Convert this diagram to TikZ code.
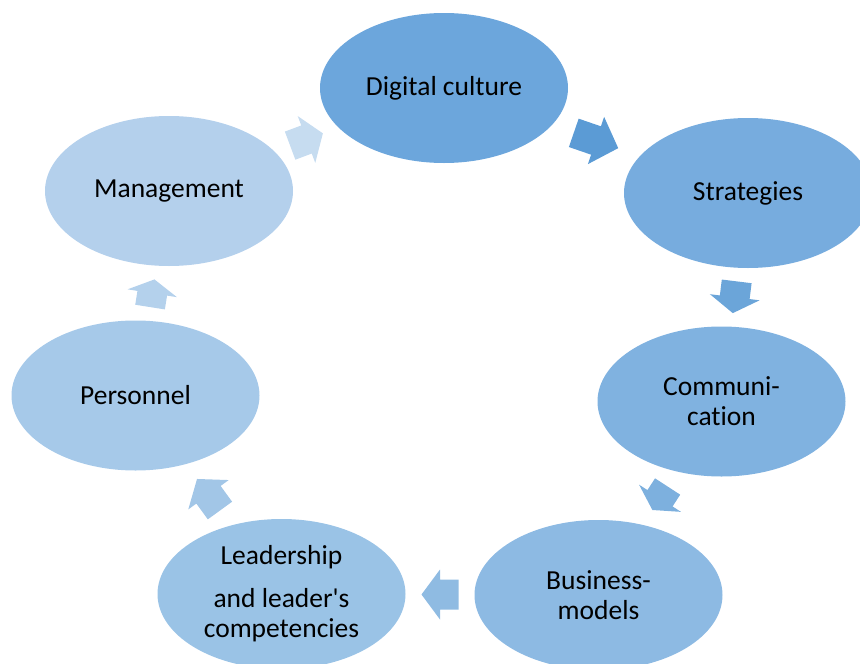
\documentclass[tikz,border=0pt]{standalone}
\usepackage{fontspec}
\setmainfont{Carlito}[Ligatures={TeXOff,NoCommon}]
\usepackage{tikz}
\usetikzlibrary{shapes.geometric,calc}
\definecolor{accent}{RGB}{91, 155, 213}
\definecolor{stepdigital}{RGB}{108, 166, 220}
\definecolor{stepstrat}{RGB}{119, 172, 222}
\definecolor{stepcomm}{RGB}{128, 178, 224}
\definecolor{stepbusi}{RGB}{141, 186, 227}
\definecolor{steplead}{RGB}{154, 195, 230}
\definecolor{steppers}{RGB}{166, 201, 233}
\definecolor{stepmanag}{RGB}{180, 208, 236}
\tikzset{
  stepblob/.style={ellipse, minimum width=248pt, minimum height=150pt, inner sep=0pt,
                   align=center, font=\fontsize{27.5}{30}\selectfont, text=black},
  cycle arrow/.pic={
    \fill[pic actions] (-#1/2,-15) -- (0,-15) -- (0,-25) -- (#1/2,0) -- (0,25) -- (0,15) -- (-#1/2,15) -- cycle;
  },
}

\begin{document}
\begin{tikzpicture}[x=1pt, y=-1pt]
            \useasboundingbox (0,0) rectangle (860,664);
            \clip (0,0) rectangle (860,664);
            \node[stepblob, fill=stepdigital] (digital) at (444.0,  88.0) {Digital culture};
            \node[stepblob, fill=stepstrat]   (strat)   at (748.0, 193.0) {Strategies};
            \node[stepblob, fill=stepcomm]    (comm)    at (721.5, 401.5) {Communi-\\cation};
            \node[stepblob, fill=stepbusi]    (busi)    at (598.5, 595.0) {Business-\\models};
            \node[stepblob, fill=steplead]    (lead)    at (281.5, 594.0) {Leadership\\[13pt]and leader's\\competencies};
            \node[stepblob, fill=steppers]    (pers)    at (135.5, 395.5) {Personnel};
            \node[stepblob, fill=stepmanag]   (manag)   at (169.0, 191.0) {Management};
            \pic[fill=accent,        rotate=-19]  (dsarrow) at ($(digital)!0.5!(strat)$) {cycle arrow=47};
            \pic[fill=accent!90,     rotate=-97]  (scarrow) at ($(strat)!0.5!(comm)$)    {cycle arrow=32};
            \pic[fill=accent!79,     rotate=-123] (cbarrow) at ($(comm)!0.5!(busi)$)     {cycle arrow=28};
            \pic[fill=accent!68,     rotate=180]  (blarrow) at ($(busi)!0.5!(lead)$)     {cycle arrow=37};
            \pic[fill=accent!57,     rotate=126]  (lparrow) at ($(lead)!0.5!(pers)$)     {cycle arrow=39};
            \pic[fill=accent!46,     rotate=81]   (pmarrow) at ($(pers)!0.5!(manag)$)    {cycle arrow=28};
            \pic[fill=accent!35,     rotate=20.5] (mdarrow) at ($(manag)!0.5!(digital)$) {cycle arrow=35};
\end{tikzpicture}
\end{document}
